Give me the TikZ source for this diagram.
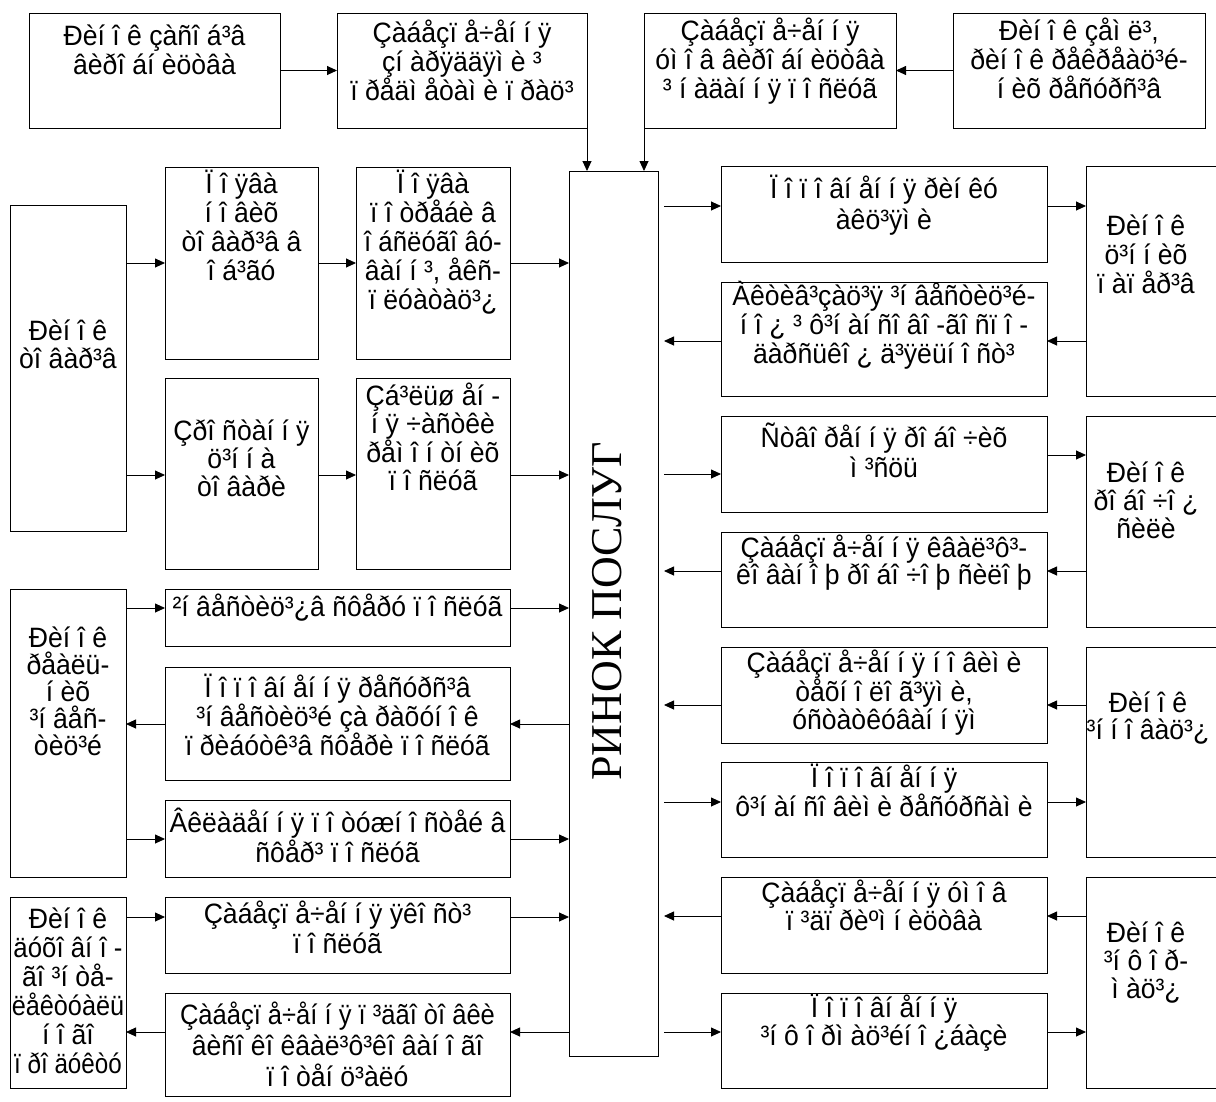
\documentclass[tikz,border=0pt]{standalone}
\usepackage{fontspec}
\setmainfont{Liberation Sans}[FakeStretch=0.95]
\newfontfamily\cyrserif{Liberation Serif}
\usetikzlibrary{arrows.meta}
\newcommand\firstl{\rule{0pt}{27pt}}
\newcommand\mybox[5]{\node[box, minimum width={(#4-#2)*1pt}, minimum height={(#5-#3)*1pt}] (#1) at ({(#2+#4)/2},{(#3+#5)/2}) {};}
\newcommand\openbox[5]{\node[box, draw=none, minimum width={(#4-#2)*1pt}, minimum height={(#5-#3)*1pt}] (#1) at ({(#2+#4)/2},{(#3+#5)/2}) {};
  \draw[boxline] (#1.north east) -- (#1.north west) -- (#1.south west) -- (#1.south east);}
\newcommand\arR[3]{\draw[arr] (#1.east |- 0,#3) -- (#2.west |- 0,#3);}
\newcommand\arL[3]{\draw[arr] (#1.west |- 0,#3) -- (#2.east |- 0,#3);}
\newcommand\sq[2]{\scalebox{#1}[1]{#2}}
\tikzset{
  box/.style={draw=black, line width=1pt, inner sep=0pt, outer sep=0pt},
  boxline/.style={draw=black, line width=1pt},
  arr/.style={-{Triangle[length=10pt,width=9pt]}, line width=0.9pt},
  txt/.style={font=\fontsize{28}{#1}\selectfont, align=center, inner sep=0pt, anchor=north},
  txt/.default=29
}
\begin{document}
\begin{tikzpicture}[x=1pt,y=-1pt]
\useasboundingbox (0,0) rectangle (1216,1101);
% ---------- boxes ----------
\mybox{A}{29}{13}{280}{128}
\mybox{B}{337}{13}{587}{128}
\mybox{C}{644}{13}{896}{128}
\mybox{D}{953}{13}{1205}{128}
\mybox{M}{569}{171}{658}{1056}
\mybox{L1}{10}{205}{126}{531}
\mybox{P1}{165}{167}{318}{359}
\mybox{P2}{356}{167}{510}{359}
\mybox{Z1}{165}{378}{318}{569}
\mybox{Z2}{356}{378}{510}{569}
\mybox{L2}{10}{589}{126}{877}
\mybox{I1}{165}{589}{510}{646}
\mybox{I2}{165}{667}{510}{780}
\mybox{I3}{165}{800}{510}{877}
\mybox{L3}{10}{897}{126}{1088}
\mybox{Q1}{165}{897}{510}{973}
\mybox{Q2}{165}{993}{510}{1096}
\mybox{S1}{721}{166}{1047}{262}
\mybox{S2}{721}{282}{1047}{396}
\mybox{S3}{721}{416}{1047}{512}
\mybox{S4}{721}{532}{1047}{627}
\mybox{S5}{721}{647}{1047}{743}
\mybox{S6}{721}{762}{1047}{857}
\mybox{S7}{721}{877}{1047}{973}
\mybox{S8}{721}{993}{1047}{1088}
\openbox{R1}{1086}{166}{1222}{396}
\openbox{R2}{1086}{416}{1222}{627}
\openbox{R3}{1086}{647}{1222}{857}
\openbox{R4}{1086}{877}{1222}{1088}
% ---------- texts ----------
\node[txt] (tA) at (154.5,18) {\firstl Ðèí î ê çàñî á³â\\âèðî áí èöòâà};
\node[txt] (tB) at (462,15) {\firstl Çàáåçï å÷åí í ÿ\\çí àðÿääÿì è ³\\ï ðåäì åòàì è ï ðàö³};
\node[txt] (tC) at (770,13) {\firstl Çàáåçï å÷åí í ÿ\\óì î â âèðî áí èöòâà\\³ í àäàí í ÿ ï î ñëóã};
\node[txt] (tD) at (1079,13) {\firstl Ðèí î ê çåì ë³,\\ðèí î ê ðåêðåàö³é-\\í èõ ðåñóðñ³â};
\node[txt=28] (tL1) at (68,313) {\firstl Ðèí î ê\\òî âàð³â};
\node[txt] (tP1) at (241.5,166) {\firstl Ï î ÿâà\\í î âèõ\\òî âàð³â â\\î á³ãó};
\node[txt] (tP2) at (433,166) {\firstl Ï î ÿâà\\ï î òðåáè â\\\sq{0.97}{î áñëóãî âó-}\\âàí í ³, åêñ-\\ï ëóàòàö³¿};
\node[txt=28] (tZ1) at (241.5,413) {\firstl Çðî ñòàí í ÿ\\ö³í í à\\òî âàðè};
\node[txt=28] (tZ2) at (433,378) {\firstl Çá³ëüø åí -\\í ÿ ÷àñòêè\\ðåì î í òí èõ\\ï î ñëóã};
\node[txt=27] (tL2) at (68,620) {\firstl Ðèí î ê\\ðåàëü-\\í èõ\\³í âåñ-\\òèö³é};
\node[txt] (tI1) at (337.5,589) {\firstl ²í âåñòèö³¿â ñôåðó ï î ñëóã};
\node[txt] (tI2) at (337.5,670) {\firstl Ï î ï î âí åí í ÿ ðåñóðñ³â\\³í âåñòèö³é çà ðàõóí î ê\\ï ðèáóòê³â ñôåðè ï î ñëóã};
\node[txt=30] (tI3) at (337.5,805) {\firstl Âêëàäåí í ÿ ï î òóæí î ñòåé â\\ñôåð³ ï î ñëóã};
\node[txt] (tL3) at (68,901) {\firstl Ðèí î ê\\\sq{0.97}{äóõî âí î -}\\ãî ³í òå-\\\sq{0.95}{ëåêòóàëü}\\í î ãî\\\sq{0.91}{ï ðî äóêòó}};
\node[txt=30] (tQ1) at (337.5,896) {\firstl Çàáåçï å÷åí í ÿ ÿêî ñò³\\ï î ñëóã};
\node[txt=31] (tQ2) at (337.5,997) {\firstl \sq{0.96}{Çàáåçï å÷åí í ÿ ï ³äãî òî âêè}\\âèñî êî êâàë³ô³êî âàí î ãî\\ï î òåí ö³àëó};
\node[txt=31] (tS1) at (884,171) {\firstl Ï î ï î âí åí í ÿ ðèí êó\\àêö³ÿì è};
\node[txt] (tS2) at (884,278) {\firstl Àêòèâ³çàö³ÿ ³í âåñòèö³é-\\í î ¿ ³ ô³í àí ñî âî -ãî ñï î -\\äàðñüêî ¿ ä³ÿëüí î ñò³};
\node[txt=30] (tS3) at (884,420) {\firstl Ñòâî ðåí í ÿ ðî áî ÷èõ\\ì ³ñöü};
\node[txt=27] (tS4) at (884,530) {\firstl Çàáåçï å÷åí í ÿ êâàë³ô³-\\êî âàí î þ ðî áî ÷î þ ñèëî þ};
\node[txt=28] (tS5) at (884,645) {\firstl Çàáåçï å÷åí í ÿ í î âèì è\\òåõí î ëî ã³ÿì è,\\óñòàòêóâàí í ÿì};
\node[txt=27] (tS6) at (884,760) {\firstl Ï î ï î âí åí í ÿ\\ô³í àí ñî âèì è ðåñóðñàì è};
\node[txt=28] (tS7) at (884,875) {\firstl Çàáåçï å÷åí í ÿ óì î â\\ï ³äï ðèºì í èöòâà};
\node[txt=28] (tS8) at (884,990) {\firstl Ï î ï î âí åí í ÿ\\³í ô î ðì àö³éí î ¿áàçè};
\node[txt] (tR1) at (1146,208) {\firstl Ðèí î ê\\ö³í í èõ\\ï àï åð³â};
\node[txt=28] (tR2) at (1146,455) {\firstl Ðèí î ê\\ðî áî ÷î ¿\\ñèëè};
\node[txt=27] (tR3) at (1148,685) {\firstl Ðèí î ê\\³í í î âàö³¿};
\node[txt=28] (tR4) at (1146,915) {\firstl Ðèí î ê\\³í ô î ð-\\ì àö³¿};
\node[rotate=90, inner sep=0pt, font=\cyrserif\fontsize{44}{44}\selectfont] (tM) at (607,611) {РИНОК ПОСЛУГ};
% ---------- connectors ----------
\draw[arr] (A.east) -- (B.west);
\draw[arr] (D.west) -- (C.east);
\draw[arr] (B.south east) -- (B.south east |- M.north);
\draw[arr] (C.south west) -- (C.south west |- M.north);
\arR{L1}{P1}{263} \arR{P1}{P2}{263} \arR{P2}{M}{263}
\arR{L1}{Z1}{475} \arR{Z1}{Z2}{475} \arR{Z2}{M}{475}
\arR{L2}{I1}{608} \arR{I1}{M}{608}
\arL{M}{I2}{724} \arL{I2}{L2}{724}
\arR{L2}{I3}{839} \arR{I3}{M}{839}
\arR{L3}{Q1}{917} \arR{Q1}{M}{917}
\arL{M}{Q2}{1032} \arL{Q2}{L3}{1032}
% right side
\draw[arr, shorten <=6pt] (M.east |- 0,206) -- (S1.west |- 0,206);
\arR{S1}{R1}{206}
\arL{R1}{S2}{341}
\draw[arr, shorten >=6pt] (S2.west |- 0,341) -- (M.east |- 0,341);
\draw[arr, shorten <=6pt] (M.east |- 0,474) -- (S3.west |- 0,474);
\arR{S3}{R2}{455}
\arL{R2}{S4}{571}
\draw[arr, shorten >=6pt] (S4.west |- 0,571) -- (M.east |- 0,571);
\arL{R3}{S5}{705}
\draw[arr, shorten >=6pt] (S5.west |- 0,705) -- (M.east |- 0,705);
\draw[arr, shorten <=6pt] (M.east |- 0,802) -- (S6.west |- 0,802);
\arR{S6}{R3}{802}
\arL{R4}{S7}{916}
\draw[arr, shorten >=6pt] (S7.west |- 0,916) -- (M.east |- 0,916);
\draw[arr, shorten <=6pt] (M.east |- 0,1032) -- (S8.west |- 0,1032);
\arR{S8}{R4}{1032}
\end{tikzpicture}
\end{document}
